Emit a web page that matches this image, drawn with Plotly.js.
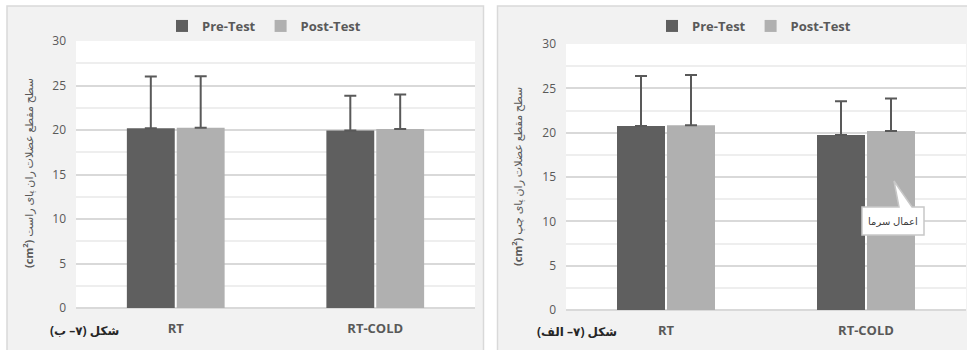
<!DOCTYPE html>
<html>
<head>
<meta charset="utf-8">
<script src="https://cdn.plot.ly/plotly-3.0.1.min.js"></script>
<style>html,body{margin:0;padding:0;background:#fff;}#chart{width:967px;height:350px;}</style>
</head>
<body>
<div id="chart"></div>
<script>
// ---- data ----
const categories = ["RT", "RT-COLD"];
const seriesNames = ["Pre-Test", "Post-Test"];
// Panel (7-ب): right leg
const rightPre = [20.2, 19.95];
const rightPreSD = [5.8, 3.9];
const rightPost = [20.25, 20.1];
const rightPostSD = [5.8, 3.9];
// Panel (7-الف): left leg
const leftPre = [20.75, 19.75];
const leftPreSD = [5.65, 3.8];
const leftPost = [20.85, 20.2];
const leftPostSD = [5.65, 3.65];
const noMinus = [0, 0];
const yTickVals = [0, 5, 10, 15, 20, 25, 30];

// ---- style helpers ----
const W = 967, H = 350;
const px = v => v / W;
const py = v => (H - v) / H;
const darkC = "#5f5f5f", lightC = "#b0b0b0", textC = "#595959";
const FONT = "Open Sans, DejaVu Sans, sans-serif";

function barTrace(name, x, y, sd, color, xa, ya, legend) {
  return {
    type: "bar", name: name, x: x, y: y,
    xaxis: xa, yaxis: ya, legend: legend,
    marker: {color: color},
    error_y: {type: "data", symmetric: false, array: sd, arrayminus: noMinus,
              color: textC, thickness: 2, width: 6},
    hoverinfo: "skip"
  };
}

const data = [
  barTrace(seriesNames[0], categories, rightPre, rightPreSD, darkC, "x", "y", "legend"),
  barTrace(seriesNames[1], categories, rightPost, rightPostSD, lightC, "x", "y", "legend"),
  barTrace(seriesNames[0], categories, leftPre, leftPreSD, darkC, "x2", "y2", "legend2"),
  barTrace(seriesNames[1], categories, leftPost, leftPostSD, lightC, "x2", "y2", "legend2")
];

function xAxis(d, anchor) {
  return {domain: d, anchor: anchor, type: "category", showgrid: false, zeroline: false,
    showline: false, ticks: "", ticklabelstandoff: 11,
    tickfont: {family: FONT, size: 13, color: textC, weight: "bold"}, fixedrange: true};
}
function yAxis(d, anchor) {
  return {domain: d, anchor: anchor, range: [0, 30], tickvals: yTickVals,
    showgrid: true, gridcolor: "#d9d9d9", gridwidth: 2,
    zeroline: true, zerolinecolor: "#d9d9d9", zerolinewidth: 2,
    showline: false, ticks: "", ticklabelstandoff: 9,
    minor: {dtick: 2.5, showgrid: true, gridcolor: "#eeeeee", gridwidth: 2},
    tickfont: {family: FONT, size: 12, color: textC}, fixedrange: true};
}

const panelFill = "#f2f2f2", panelLine = "#d9d9d9";
const shapes = [
  {type: "rect", xref: "paper", yref: "paper", layer: "below",
   x0: px(7), x1: px(483.5), y0: py(352), y1: py(6),
   fillcolor: panelFill, line: {color: panelLine, width: 1.5}},
  {type: "rect", xref: "paper", yref: "paper", layer: "below",
   x0: px(497.5), x1: px(970), y0: py(352), y1: py(6),
   fillcolor: panelFill, line: {color: panelLine, width: 1.5}},
  {type: "rect", xref: "paper", yref: "paper", layer: "below",
   x0: px(76), x1: px(475), y0: py(308), y1: py(41),
   fillcolor: "#ffffff", line: {width: 0}},
  {type: "rect", xref: "paper", yref: "paper", layer: "below",
   x0: px(566), x1: px(966), y0: py(310), y1: py(44),
   fillcolor: "#ffffff", line: {width: 0}},
  // callout box with pointer
  {type: "path", xref: "paper", yref: "paper", layer: "above",
   path: "M" + px(862) + "," + py(207) + " L" + px(899) + "," + py(207) +
         " L" + px(894) + "," + py(181) + " L" + px(912) + "," + py(207) +
         " L" + px(924) + "," + py(207) + " L" + px(924) + "," + py(235) +
         " L" + px(862) + "," + py(235) + " Z",
   fillcolor: "#ffffff", line: {color: "#c8c8c8", width: 1.5}}
];

const annotations = [
  {xref: "paper", yref: "paper", x: px(28), y: py(173), textangle: -90,
   text: "<b>(cm<sup>2</sup>)</b> سطح مقطع عضلات ران پای راست", showarrow: false,
   font: {family: FONT, size: 11, color: textC}, xanchor: "center", yanchor: "middle"},
  {xref: "paper", yref: "paper", x: px(517), y: py(177), textangle: -90,
   text: "<b>(cm<sup>2</sup>)</b> سطح مقطع عضلات ران پای چپ", showarrow: false,
   font: {family: FONT, size: 11, color: textC}, xanchor: "center", yanchor: "middle"},
  {xref: "paper", yref: "paper", x: px(84), y: py(330),
   text: "<b>شکل (۷– ب)</b>", showarrow: false,
   font: {family: FONT, size: 12, color: "#262626"}, xanchor: "center", yanchor: "middle"},
  {xref: "paper", yref: "paper", x: px(577), y: py(331),
   text: "<b>شکل (۷– الف)</b>", showarrow: false,
   font: {family: FONT, size: 12, color: "#262626"}, xanchor: "center", yanchor: "middle"},
  {xref: "paper", yref: "paper", x: px(893), y: py(221),
   text: "اعمال سرما", showarrow: false,
   font: {family: FONT, size: 10, color: "#404040"}, xanchor: "center", yanchor: "middle"}
];

const legendBase = {orientation: "h", xref: "paper", yref: "paper", xanchor: "center",
  yanchor: "middle", bgcolor: "rgba(0,0,0,0)", itemclick: false, itemdoubleclick: false,
  font: {family: FONT, size: 13, color: textC, weight: "bold"}, tracegroupgap: 0, itemwidth: 30};

const layout = {
  width: W, height: H,
  margin: {l: 0, r: 0, t: 0, b: 0},
  paper_bgcolor: "#ffffff", plot_bgcolor: "rgba(0,0,0,0)",
  barmode: "group", bargap: 0.5, bargroupgap: 0.04,
  showlegend: true,
  legend: Object.assign({}, legendBase, {x: px(264), y: py(26)}),
  legend2: Object.assign({}, legendBase, {x: px(754), y: py(26)}),
  xaxis: xAxis([px(76), px(475)], "y"),
  yaxis: yAxis([py(308), py(41)], "x"),
  xaxis2: xAxis([px(566), px(966)], "y2"),
  yaxis2: yAxis([py(310), py(44)], "x2"),
  shapes: shapes,
  annotations: annotations,
  font: {family: FONT}
};

Plotly.newPlot("chart", data, layout, {displayModeBar: false, staticPlot: true});
</script>
</body>
</html>
